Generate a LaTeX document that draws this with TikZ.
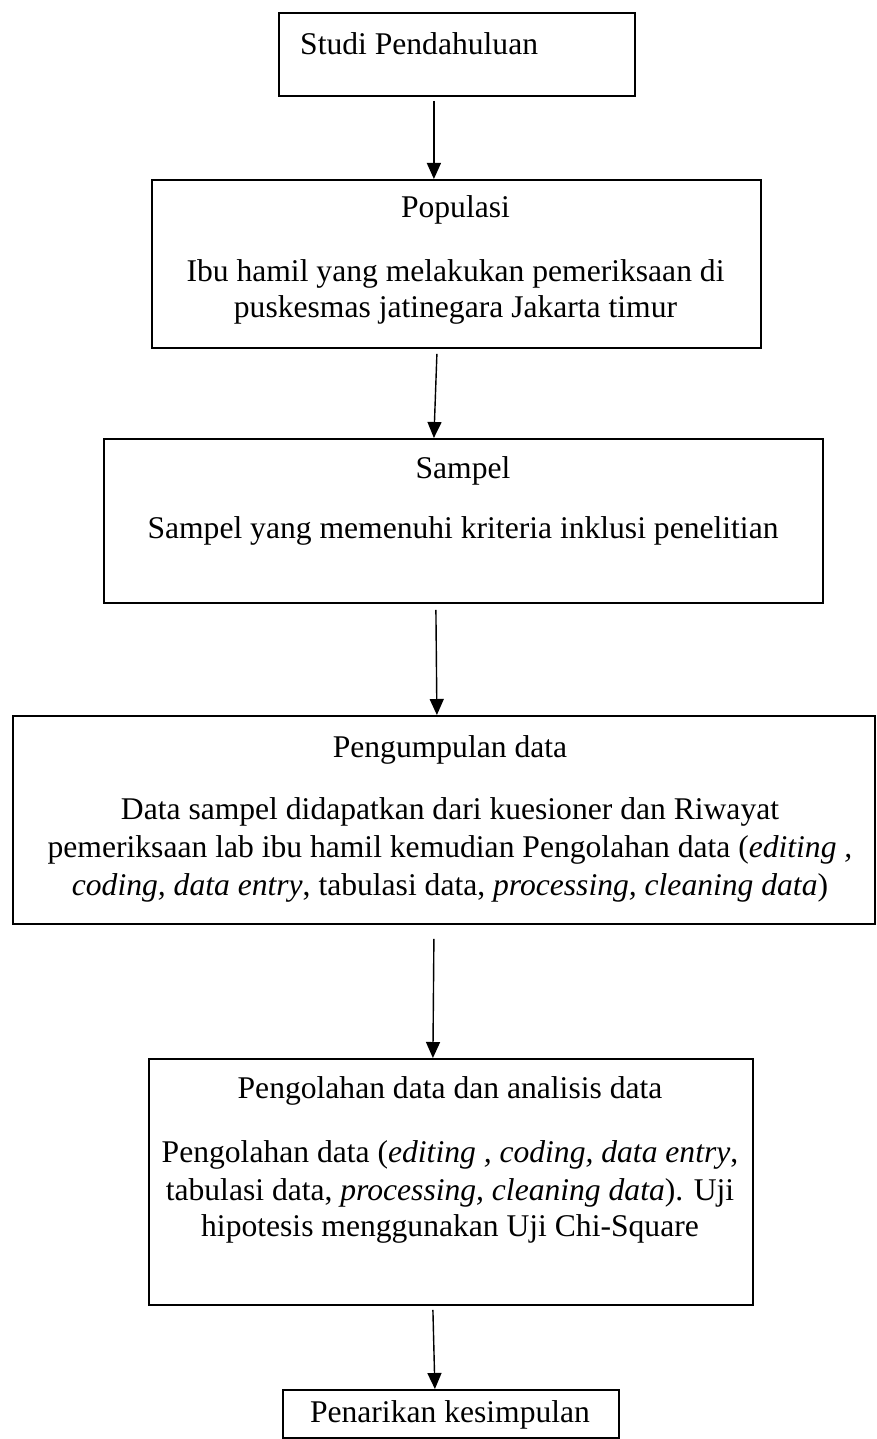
\documentclass[tikz,border=0pt]{standalone}
\usepackage{fontspec}
\setmainfont{Liberation Serif}
\usetikzlibrary{arrows.meta,calc}
\begin{document}
\begin{tikzpicture}[x=1pt,y=-1pt,
 box/.style={draw, line width=1.8pt, rectangle, inner sep=0pt, anchor=north west},
 txt/.style={inner sep=0pt, anchor=base, font=\fontsize{31.6pt}{37pt}\selectfont},
 arr/.style={line width=1.4pt, -{Triangle[length=16pt,width=14pt]}}]
\useasboundingbox (0,0) rectangle (876,1439);
% boxes
\node[box, minimum width=356pt, minimum height=83pt] (b1) at (278,12) {};
\node[box, minimum width=609pt, minimum height=168pt] (b2) at (151,179) {};
\node[box, minimum width=719pt, minimum height=164pt] (b3) at (103,438) {};
\node[box, minimum width=862pt, minimum height=208pt] (b4) at (12,715) {};
\node[box, minimum width=604pt, minimum height=246pt] (b5) at (148,1058) {};
\node[box, minimum width=336pt, minimum height=48pt] (b6) at (282,1389) {};
% texts
\node[txt, anchor=base west] (t1) at (300,55) {Studi Pendahuluan};
\node[txt] (t2a) at (455.5,218) {Populasi};
\node[txt] (t2b) at (455.5,281) {Ibu hamil yang melakukan pemeriksaan di};
\node[txt] (t2c) at (455.5,317) {puskesmas jatinegara Jakarta timur};
\node[txt] (t3a) at (463,478) {Sampel};
\node[txt] (t3b) at (463,538) {Sampel yang memenuhi kriteria inklusi penelitian};
\node[txt] (t4a) at (450,757) {Pengumpulan data};
\node[txt] (t4b) at (450,819) {Data sampel didapatkan dari kuesioner dan Riwayat};
\node[txt] (t4c) at (450,857) {pemeriksaan lab ibu hamil kemudian Pengolahan data (\textit{editing ,}};
\node[txt] (t4d) at (450,895) {\textit{coding, data entry}, tabulasi data, \textit{processing, cleaning data})};
\node[txt] (t5a) at (450,1098) {Pengolahan data dan analisis data};
\node[txt] (t5b) at (450,1162) {Pengolahan data (\textit{editing , coding, data entry},};
\node[txt] (t5c) at (450,1200) {tabulasi data, \textit{processing, cleaning data}). Uji};
\node[txt] (t5d) at (450,1236) {hipotesis menggunakan Uji Chi-Square};
\node[txt] (t6) at (450,1422) {Penarikan kesimpulan};
% arrows
\draw[arr] ($(b1.south)+(-23,4)$) -- ($(b2.north)+(-22.5,0)$);
\draw[arr] ($(b2.south)+(-19.5,5)$) -- ($(b3.north)+(-29.5,0)$);
\draw[arr] ($(b3.south)+(-27.5,6)$) -- ($(b4.north)+(-7,0)$);
\draw[arr] ($(b4.south)+(-10,14)$) -- ($(b5.north)+(-18,0)$);
\draw[arr] ($(b5.south)+(-18,4)$) -- ($(b6.north)+(-16,0)$);
\end{tikzpicture}
\end{document}
